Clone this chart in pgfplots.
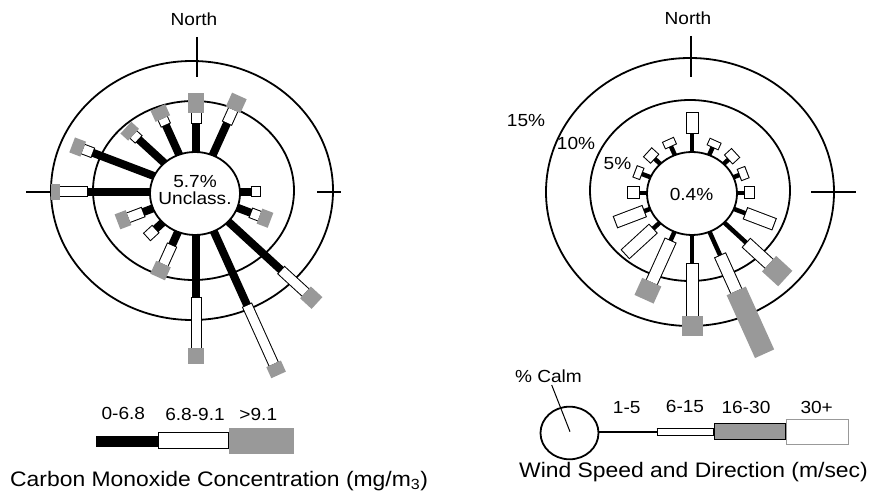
\documentclass[border=0pt]{standalone}
\usepackage{graphicx}
\usepackage{pgfplots}
\pgfplotsset{compat=1.18}
\usepackage{pgfplotstable}
\usepackage{fontspec}
\setmainfont{Liberation Sans}
\definecolor{bargray}{HTML}{999999}
% the whole figure is stretched horizontally by about 1.09
\newcommand\tx[1]{\scalebox{1.09}[1]{#1}}

% Carbon monoxide rose: direction (deg), end radius of black (0-6.8), white (6.8-9.1), gray (>9.1)
\pgfplotstableread{
dir k w g
0 69 79 99
22.5 75 89 104
90 51 59 59
112.5 55 63 74
135 111 142 157
157.5 123 186 198
180 106 156 172
202.5 58 78 92
225 53 63 63
247.5 53 67 78
270 100 125 133
292.5 103 112 123
315 75 81 91
337.5 73 79.5 91.5
}\Ldata

% Wind rose: direction (deg), end radius of 1-5 (black), 6-15 (white), 16-30 (gray)
\pgfplotstableread{
dir k w g
0 60 80 80
22.5 50 56 56
45 48 56 56
67.5 47.6 54 54
90 48.6 57 57
112.5 53.6 81 81
135 71 100 121
157.5 68 106 174
180 71 123 143
202.5 52 96.5 115
225 51 86 86
247.5 48 75.5 75.5
270 49 58.4 58.4
292.5 50.4 56 56
315 49 57 57
337.5 51 57 57
}\Rdata

% #1 table, #2 cx, #3 cy, #4 start radius expr, #5 end radius expr, #6 extension, #7 style
\newcommand\rosebar[7]{%
  \addplot[no markers, #7, quiver={
      u={1.09*((#5)-(#4)+2*#6)*sin(\thisrow{dir})},
      v={-((#5)-(#4)+2*#6)*cos(\thisrow{dir})},
      every arrow/.append style={-, #7}}]
    table[x expr={#2+1.09*((#4)-#6)*sin(\thisrow{dir})},
          y expr={#3-((#4)-#6)*cos(\thisrow{dir})}] {#1};}

\begin{document}
\begin{tikzpicture}[font=\fontsize{17.5bp}{21bp}\selectfont]
\begin{axis}[x=1bp, y=1bp, y dir=reverse, xmin=0, xmax=872, ymin=0, ymax=493,
  hide axis, clip=false, scale only axis]
\path[draw=none] (rel axis cs:0,0) rectangle (rel axis cs:1,1);

% ---------- left rose rings and ticks
\draw[line width=1.8bp] (axis cs:192,190.5) ellipse [x radius=141bp, y radius=129.5bp];
\draw[line width=1.8bp] (axis cs:193.5,190.5) ellipse [x radius=100.5bp, y radius=89.5bp];
\draw[line width=2.2bp] (axis cs:197,37) -- (axis cs:197,77);
\draw[line width=2.2bp] (axis cs:317,192) -- (axis cs:341,192);
\draw[line width=2.2bp] (axis cs:26,192) -- (axis cs:70,192);

% ---------- right rose rings and ticks
\draw[line width=1.8bp] (axis cs:690,192) ellipse [x radius=144bp, y radius=134bp];
\draw[line width=1.8bp] (axis cs:690,190.5) ellipse [x radius=100bp, y radius=90.5bp];
\draw[line width=2.2bp] (axis cs:691,36) -- (axis cs:691,77);
\draw[line width=2.2bp] (axis cs:811,192) -- (axis cs:856,192);

% ---------- left rose bars
\rosebar{\Ldata}{196}{192}{38}{\thisrow{k}}{0}{black, line width=8bp}
\rosebar{\Ldata}{196}{192}{\thisrow{k}}{\thisrow{w}}{1}{black, line width=11bp}
\rosebar{\Ldata}{196}{192}{\thisrow{k}}{\thisrow{w}}{0}{white, line width=9bp}
\rosebar{\Ldata}{196}{192}{\thisrow{w}}{\thisrow{g}}{0}{bargray, line width=16bp}

% ---------- right rose bars
\rosebar{\Rdata}{692}{193}{38}{\thisrow{k}}{0}{black, line width=4.5bp}
\rosebar{\Rdata}{692}{193}{\thisrow{k}}{\thisrow{w}}{1}{black, line width=13bp}
\rosebar{\Rdata}{692}{193}{\thisrow{k}}{\thisrow{w}}{0}{white, line width=11bp}
\rosebar{\Rdata}{692}{193}{\thisrow{w}}{\thisrow{g}}{0}{bargray, line width=21bp}

% ---------- centre circles
\draw[line width=1.8bp, fill=white] (axis cs:195,193.5) ellipse [x radius=45bp, y radius=41.5bp];
\draw[line width=1.8bp, fill=white] (axis cs:692,193.5) ellipse [x radius=45bp, y radius=41.5bp];

% ---------- texts
\node at (axis cs:194,19) {\tx{North}};
\node at (axis cs:688,18) {\tx{North}};
\node at (axis cs:195,181.5) {\tx{5.7\%}};
\node at (axis cs:195,198.5) {\tx{Unclass.}};
\node at (axis cs:691.5,194.5) {\tx{0.4\%}};
\node at (axis cs:526,120.5) {\tx{15\%}};
\node at (axis cs:576,143.5) {\tx{10\%}};
\node at (axis cs:617.5,163.5) {\tx{5\%}};

% ---------- left legend
\addplot[black, line width=10.7bp] coordinates {(96,441.5) (158.3,441.5)};
\addplot[black, line width=16.7bp] coordinates {(158.3,440.6) (229.3,440.6)};
\addplot[white, line width=14.7bp] coordinates {(159.3,440.6) (228.3,440.6)};
\addplot[bargray, line width=26bp] coordinates {(229.3,441.3) (294,441.3)};
\node at (axis cs:123.3,413.3) {\tx{0-6.8}};
\node at (axis cs:195,414) {\tx{6.8-9.1}};
\node at (axis cs:258.3,414) {\tx{>9.1}};
\node[anchor=base west, inner sep=0pt, font=\fontsize{21bp}{25bp}\selectfont] at (axis cs:10,486) {\tx{Carbon Monoxide Concentration (mg/m\textsubscript{3})}};

% ---------- right legend
\draw[line width=1.8bp] (axis cs:569.5,433) ellipse [x radius=29bp, y radius=26.3bp];
\addplot[black, line width=1bp] coordinates {(551.7,385) (570,431.7)};
\addplot[black, line width=2bp] coordinates {(598.3,432) (656.7,432)};
\addplot[black, line width=8bp] coordinates {(656.7,432.3) (714.3,432.3)};
\addplot[white, line width=6bp] coordinates {(657.7,432.3) (713.3,432.3)};
\addplot[black, line width=17bp] coordinates {(714.3,431.8) (785.7,431.8)};
\addplot[bargray, line width=15bp] coordinates {(715.3,431.8) (784.7,431.8)};
\addplot[bargray, line width=26bp] coordinates {(785.7,432.3) (849.3,432.3)};
\addplot[white, line width=24bp] coordinates {(786.7,432.3) (848.3,432.3)};
\node at (axis cs:548.5,376) {\tx{\% Calm}};
\node at (axis cs:626.7,407.5) {\tx{1-5}};
\node at (axis cs:685,406) {\tx{6-15}};
\node at (axis cs:746,407.5) {\tx{16-30}};
\node at (axis cs:816.7,407.5) {\tx{30+}};
\node[anchor=base, inner sep=0pt, font=\fontsize{21bp}{25bp}\selectfont] at (axis cs:693.5,477) {\tx{Wind Speed and Direction (m/sec)}};
\end{axis}
\end{tikzpicture}
\end{document}
